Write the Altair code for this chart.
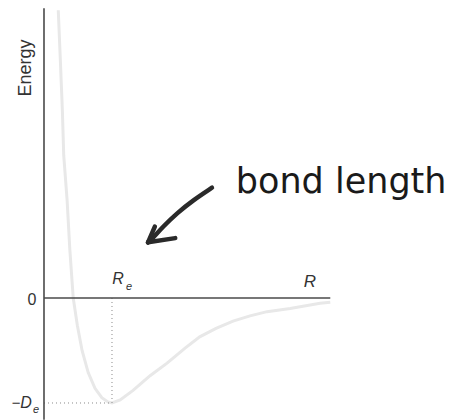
import altair as alt
import pandas as pd

# Potential energy curve E(R), in units where R_e = 1 and D_e = 1
curve_r = [0.21, 0.24, 0.27, 0.29, 0.34, 0.38, 0.43, 0.49, 0.56, 0.65, 0.75,
           0.85, 0.94, 1.00, 1.12, 1.31, 1.56, 1.81, 2.07, 2.29, 2.53, 2.78,
           3.03, 3.28, 3.62, 4.06, 4.21]
curve_e = [2.74, 2.27, 1.79, 1.36, 0.93, 0.46, 0.00, -0.26, -0.50, -0.71, -0.86,
           -0.95, -0.99, -1.00, -0.97, -0.88, -0.74, -0.62, -0.48, -0.37, -0.29, -0.22,
           -0.17, -0.13, -0.10, -0.05, -0.04]

r_eq = 1.0
depth = -1.0
r_max = 4.21
e_top = 2.76
e_bottom = -1.16

# Hand-drawn arrow pointing at the well
arrow_r = [2.47, 2.19, 1.96, 1.75, 1.60, 1.53]
arrow_e = [1.05, 0.93, 0.81, 0.68, 0.57, 0.53]
head_r = [[1.63, 1.53], [1.53, 1.93]]
head_e = [[0.68, 0.53], [0.53, 0.57]]

W, H = 452, 420
x_scale = alt.Scale(domain=[-0.647, 6.0], nice=False, zero=False)
y_scale = alt.Scale(domain=[-1.162, 2.838], nice=False, zero=False)
X = lambda f: alt.X(f, type="quantitative", scale=x_scale, axis=None)
Y = lambda f: alt.Y(f, type="quantitative", scale=y_scale, axis=None)

curve_df = pd.DataFrame({"r": curve_r, "e": curve_e, "i": range(len(curve_r))})
curve = alt.Chart(curve_df).mark_line(color="#e8e8e8", strokeWidth=3).encode(
    x=X("r"), y=Y("e"), order="i:Q")

axes_df = pd.DataFrame({
    "x1": [0.0, 0.0], "x2": [0.0, r_max],
    "y1": [e_bottom, 0.0], "y2": [e_top, 0.0]})
axes = alt.Chart(axes_df).mark_rule(color="#4a4a4a", strokeWidth=1.6).encode(
    x=X("x1"), x2="x2", y=Y("y1"), y2="y2")

guides_df = pd.DataFrame({
    "x1": [r_eq, 0.0], "x2": [r_eq, r_eq],
    "y1": [0.0, depth], "y2": [depth, depth]})
guides = alt.Chart(guides_df).mark_rule(
    color="#888888", strokeWidth=1, strokeDash=[1, 3]).encode(
    x=X("x1"), x2="x2", y=Y("y1"), y2="y2")

arrow_df = pd.DataFrame({"r": arrow_r, "e": arrow_e, "i": range(len(arrow_r))})
arrow = alt.Chart(arrow_df).mark_line(
    color="#2a2a2a", strokeWidth=4.5, strokeCap="round", interpolate="basis").encode(
    x=X("r"), y=Y("e"), order="i:Q")

head_rows = []
for rs, es in zip(head_r, head_e):
    head_rows.append({"x1": rs[0], "x2": rs[1], "y1": es[0], "y2": es[1]})
head = alt.Chart(pd.DataFrame(head_rows)).mark_rule(
    color="#2a2a2a", strokeWidth=4.5, strokeCap="round").encode(
    x=X("x1"), x2="x2", y=Y("y1"), y2="y2")

font = "Liberation Sans"
def label(text, r, e, size=14, style="normal", align="center", angle=0, color="#333333",
          family=font, weight="normal"):
    return alt.Chart(pd.DataFrame({"r": [r], "e": [e], "t": [text]})).mark_text(
        font=family, fontSize=size, fontStyle=style, align=align, baseline="middle",
        angle=angle, color=color, fontWeight=weight).encode(
        x=X("r"), y=Y("e"), text="t:N")

labels = [
    label("Energy", -0.265, 2.19, size=18, angle=270),
    label("0", -0.176, -0.02, size=16),
    label("\u2212", -0.41, depth, size=15),
    label("D", -0.265, depth, size=16, style="italic"),
    label("e", -0.118, -1.067, size=11, style="italic"),
    label("R", 1.088, 0.181, size=16, style="italic"),
    label("e", 1.25, 0.105, size=11, style="italic"),
    label("R", 3.91, 0.152, size=17, style="italic"),
    label("bond length", 4.37, 1.10, size=35, color="#1a1a1a",
          family="DejaVu Sans"),
]

chart = alt.layer(curve, guides, axes, arrow, head, *labels).properties(
    width=W, height=H, padding=0, autosize="none"
).configure_view(stroke=None)

chart.save("out.html", embed_options={"renderer": "svg", "actions": False})
